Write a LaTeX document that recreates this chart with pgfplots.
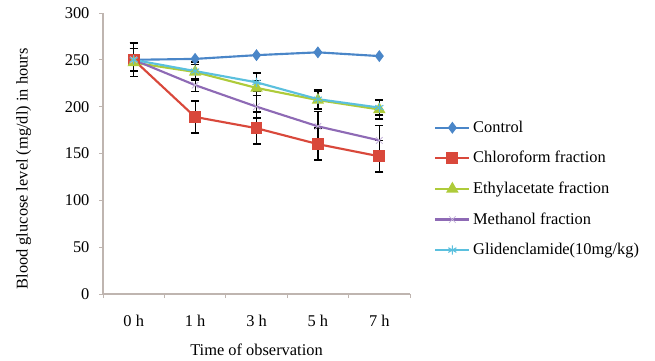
\documentclass[border=0pt]{standalone}
\usepackage{fontspec}
\setmainfont{Liberation Serif}
\usepackage{pgfplots}
\pgfplotsset{compat=1.18}
\definecolor{cctrl}{HTML}{4A86C8}
\definecolor{cchl}{HTML}{D9483B}
\definecolor{ceth}{HTML}{AECB3A}
\definecolor{cmet}{HTML}{8E6AB5}
\definecolor{cgli}{HTML}{5BC0DE}
\definecolor{axc}{HTML}{BFB5B0}
\begin{document}
\fontsize{12}{14}\selectfont
\begin{tikzpicture}
\useasboundingbox (0,0) rectangle (491.25pt,270pt);
\begin{axis}[
  at={(77.25pt,49.5pt)}, anchor=south west,
  scale only axis, width=230.25pt, height=210.75pt,
  xmin=-0.5, xmax=4.5, ymin=0, ymax=300,
  ytick={0,50,...,300},
  xtick={0,...,4},
  xticklabels={0 h,1 h,3 h,5 h,7 h},
  minor xtick={-0.5,0.5,...,4.5},
  major x tick style={draw=none},
  tick align=outside,
  major tick length=3pt, minor tick length=3pt,
  every tick/.style={axc, line width=0.6pt},
  axis x line*=bottom, axis y line*=left,
  axis line style={axc, line width=0.8pt, -},
  /pgf/number format/assume math mode=true,
  tick label style={font=\fontsize{12.3}{14}\selectfont},
  xticklabel style={yshift=-9pt},
  yticklabel style={xshift=-3pt},
  label style={font=\fontsize{12.3}{14}\selectfont},
  xlabel={Time of observation},
  xlabel style={at={(axis description cs:0.5,-0.199)}, anchor=center},
  ylabel={Blood glucose level (mg/dl) in hours},
  ylabel style={at={(axis description cs:-0.258,0.445)}, anchor=center},
  legend style={at={(1.065,0.374)}, anchor=west, draw=none, fill=none,
    font=\fontsize{12.3}{14}\selectfont, row sep=8.5pt},
  legend cell align=left,
  legend image code/.code={\draw[mark repeat=2,mark phase=2] plot coordinates {(0cm,0cm) (0.45cm,0cm) (0.9cm,0cm)};},
  every axis plot/.append style={line width=1.6pt},
  error bars/error bar style={black, line width=0.9pt},
  error bars/error mark options={black, rotate=90, mark size=3pt, line width=1.2pt},
]
\addplot[cctrl, mark=diamond*, mark size=3.2pt, mark options={solid}] coordinates {(0,250) (1,251) (2,255) (3,258) (4,254)};
\addlegendentry{Control}
\addplot[cchl, mark=square*, mark size=3.6pt,
  error bars/.cd, y dir=both, y explicit] coordinates {
  (0,250) +- (0,18) (1,189) +- (0,17) (2,177) +- (0,17) (3,160) +- (0,17) (4,147) +- (0,17)};
\addlegendentry{Chloroform fraction}
\addplot[ceth, mark=triangle*, mark size=3.8pt,
  error bars/.cd, y dir=both, y explicit] coordinates {
  (0,247) +- (0,15) (1,237) +- (0,8) (2,220) +- (0,8) (3,207) +- (0,10) (4,197) +- (0,10)};
\addlegendentry{Ethylacetate fraction}
\addplot[cmet, mark=x, mark size=3.5pt, mark options={line width=0.6pt, cmet!50},
  error bars/.cd, y dir=both, y explicit] coordinates {
  (0,250) +- (0,12) (1,223) +- (0,7) (2,200) +- (0,12) (3,179) +- (0,16) (4,164) +- (0,16)};
\addlegendentry{Methanol fraction}
\addplot[cgli, mark=asterisk, mark size=3.5pt, mark options={line width=0.8pt},
  error bars/.cd, y dir=both, y explicit] coordinates {
  (0,250) +- (0,18) (1,238) +- (0,10) (2,226) +- (0,10) (3,208) +- (0,10) (4,199) +- (0,8)};
\addlegendentry{Glidenclamide(10mg/kg)}
\end{axis}
\end{tikzpicture}
\end{document}
